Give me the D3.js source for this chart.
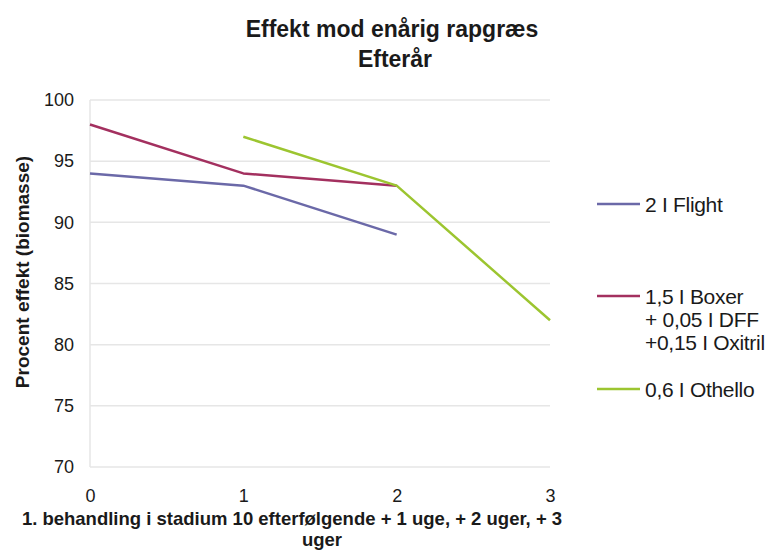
<!DOCTYPE html>
<html><head><meta charset="utf-8">
<script src="https://cdn.jsdelivr.net/npm/d3@7"></script>
<style>body{margin:0;background:#fff;} text{font-family:"Liberation Sans",Arial,sans-serif;fill:#1a1a1a;}</style>
</head><body>
<svg id="c" width="776" height="554"></svg>
<script>
const xTicks = [0, 1, 2, 3];
const yTicks = [70, 75, 80, 85, 90, 95, 100];
const flightX = [0, 1, 2];
const flightY = [94, 93, 89];
const boxerX = [0, 1, 2];
const boxerY = [98, 94, 93];
const othelloX = [1, 2, 3];
const othelloY = [97, 93, 82];
const seriesNames = [["2 I Flight"], ["1,5 I Boxer", "+ 0,05 I DFF", "+0,15 I Oxitril"], ["0,6 I Othello"]];
const seriesColors = ["#6b69a8", "#a3305f", "#9cc530"];

const svg = d3.select("#c");
const x = d3.scaleLinear().domain([0, 3]).range([90, 550]);
const y = d3.scaleLinear().domain([70, 100]).range([467, 100]);

// gridlines
svg.append("g").selectAll("line").data(yTicks).join("line")
  .attr("x1", 90).attr("x2", 550).attr("y1", d => y(d)).attr("y2", d => y(d))
  .attr("stroke", "#e6e6e6").attr("stroke-width", 1.5);
svg.append("line").attr("x1", 90).attr("x2", 90).attr("y1", y(100)).attr("y2", y(70))
  .attr("stroke", "#e6e6e6").attr("stroke-width", 1.5);

// y axis labels
const yAxis = d3.axisLeft(y).tickValues(yTicks).tickSize(0).tickPadding(16);
const gy = svg.append("g").attr("transform", "translate(90,0)").call(yAxis);
gy.select(".domain").remove();
gy.selectAll("text").style("font-size", "18px").attr("fill", "#1a1a1a");

const xAxis = d3.axisBottom(x).tickValues(xTicks).tickSize(0).tickPadding(22).tickFormat(d3.format("d"));
const gx = svg.append("g").attr("transform", "translate(0,467)").call(xAxis);
gx.select(".domain").remove();
gx.selectAll("text").style("font-size", "18px").attr("fill", "#1a1a1a");

// lines
const line = d3.line().x(d => x(d[0])).y(d => y(d[1]));
const data = [d3.zip(flightX, flightY), d3.zip(boxerX, boxerY), d3.zip(othelloX, othelloY)];
data.forEach((s, i) => {
  svg.append("path").datum(s).attr("d", line).attr("fill", "none")
    .attr("stroke", seriesColors[i]).attr("stroke-width", 2.5).attr("stroke-linejoin", "round");
});

// titles
svg.append("text").attr("x", 392).attr("y", 37).attr("text-anchor", "middle")
  .style("font-size", "23px").style("font-weight", "bold").text("Effekt mod enårig rapgræs");
svg.append("text").attr("x", 395).attr("y", 67).attr("text-anchor", "middle")
  .style("font-size", "23px").style("font-weight", "bold").text("Efterår");

svg.append("text").attr("transform", "translate(29,272) rotate(-90)").attr("text-anchor", "middle")
  .style("font-size", "19px").style("font-weight", "bold").text("Procent effekt (biomasse)");

svg.append("text").attr("x", 292).attr("y", 525).attr("text-anchor", "middle")
  .style("font-size", "18.5px").style("font-weight", "bold")
  .text("1. behandling i stadium 10 efterfølgende + 1 uge, + 2 uger, + 3");
svg.append("text").attr("x", 322).attr("y", 546).attr("text-anchor", "middle")
  .style("font-size", "18.5px").style("font-weight", "bold").text("uger");

// legend
const legY = [204, 296, 389];
seriesNames.forEach((lines, i) => {
  const g = svg.append("g");
  g.append("line").attr("x1", 597).attr("x2", 640).attr("y1", legY[i]).attr("y2", legY[i])
    .attr("stroke", seriesColors[i]).attr("stroke-width", 2.5);
  lines.forEach((t, j) => {
    g.append("text").attr("x", 645).attr("y", legY[i] + 8 + j * 23)
      .style("font-size", "21px").style("letter-spacing", "-0.3px").text(t);
  });
});
</script>
</body></html>
